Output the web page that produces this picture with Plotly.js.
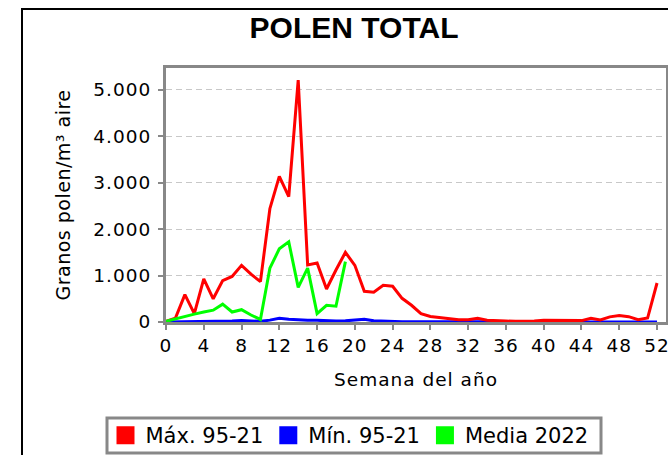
<!DOCTYPE html>
<html>
<head>
<meta charset="utf-8">
<script src="https://cdn.plot.ly/plotly-3.0.1.min.js"></script>
<style>
html,body{margin:0;padding:0;background:#fff;overflow:hidden;}
#chart{width:668px;height:455px;position:relative;}
#frame{position:absolute;left:21px;top:8px;width:720px;height:520px;border:2px solid #000;pointer-events:none;}
#chart .xtick text, #chart .ytick text, #chart .g-xtitle text {letter-spacing:1px;}
#chart .g-ytitle text {letter-spacing:0.5px;}
</style>
</head>
<body>
<div id="chart"></div>
<div id="frame"></div>
<script>
const weeks = Array.from({length: 53}, (_, i) => i);
const maxLabel = "Máx. 95-21";
const minLabel = "Mín. 95-21";
const mediaLabel = "Media 2022";
const maxValues = [15, 85, 590, 180, 930, 500, 890, 980, 1220, 1030, 870, 2440, 3135, 2700, 5210, 1230, 1270, 710, 1120, 1500, 1220, 660, 640, 790, 770, 510, 360, 180, 120, 100, 85, 50, 50, 80, 36, 22, 22, 14, 14, 20, 35, 30, 35, 30, 30, 80, 45, 110, 140, 115, 50, 85, 840];
const minValues = [0, 2, 3, 3, 4, 5, 8, 20, 30, 30, 15, 40, 80, 60, 45, 40, 35, 25, 20, 25, 35, 60, 25, 15, 10, 8, 6, 5, 4, 3, 3, 2, 2, 2, 2, 2, 2, 2, 2, 2, 2, 2, 2, 2, 2, 2, 2, 2, 2, 2, 2, 2, 2];
const mediaWeeks = weeks.slice(0, 20);
const mediaValues = [15, 70, 120, 170, 215, 255, 385, 215, 265, 150, 55, 1160, 1575, 1725, 745, 1160, 180, 360, 340, 1300];
const yTicks = [0, 1000, 2000, 3000, 4000, 5000];
const xTicks = [0, 4, 8, 12, 16, 20, 24, 28, 32, 36, 40, 44, 48, 52];

const RED = '#ff0000', BLUE = '#0000ff', GREEN = '#00ff00';
const font = 'DejaVu Sans, Verdana, sans-serif';

const W = 668, H = 455, ML = 166, MR = 2, MT = 68, MB = 133;
const PW = W - ML - MR, PH = H - MT - MB;
const px2x = px => (px - ML) / PW;
const py2y = py => (H - MB - py) / PH;

const traces = [
  {x: weeks, y: minValues, mode: 'lines', line: {color: BLUE, width: 3}, showlegend: false, hoverinfo: 'skip'},
  {x: weeks, y: maxValues, mode: 'lines', line: {color: RED, width: 3}, showlegend: false, hoverinfo: 'skip'},
  {x: mediaWeeks, y: mediaValues, mode: 'lines', line: {color: GREEN, width: 3}, showlegend: false, hoverinfo: 'skip'},
  {x: [null], y: [null], mode: 'markers', name: maxLabel, marker: {symbol: 'square', size: 16, color: RED, line: {color: RED, width: 2}}},
  {x: [null], y: [null], mode: 'markers', name: minLabel, marker: {symbol: 'square', size: 16, color: BLUE, line: {color: BLUE, width: 2}}},
  {x: [null], y: [null], mode: 'markers', name: mediaLabel, marker: {symbol: 'square', size: 16, color: GREEN, line: {color: GREEN, width: 2}}}
];

const layout = {
  width: W, height: H,
  margin: {l: ML, r: MR, t: MT, b: MB},
  paper_bgcolor: '#fff', plot_bgcolor: '#fff',
  separators: ',.',
  font: {family: font, size: 18, color: '#000'},
  title: {text: 'POLEN TOTAL', font: {family: 'Liberation Sans, Arial, sans-serif', size: 30, weight: 'bold', color: '#000'},
          xref: 'container', x: 0.53, xanchor: 'center', yref: 'container', y: 1 - 27/455, yanchor: 'middle'},
  xaxis: {
    range: [0, 52.95], tickvals: xTicks, ticktext: xTicks.map(String),
    showgrid: false, zeroline: false,
    showline: true, linecolor: '#888', linewidth: 3, mirror: true,
    ticks: 'outside', ticklen: 5, tickwidth: 2, tickcolor: '#888',
    ticklabeloverflow: 'allow',
    tickfont: {family: font, size: 18.5, color: '#000'},
    title: {text: 'Semana del año', font: {family: font, size: 18.5, color: '#000'}, standoff: 18},
    automargin: false
  },
  yaxis: {
    range: [0, 5470], tickvals: yTicks, tickformat: ',d',
    showgrid: true, gridcolor: '#c8c8c8', gridwidth: 1, griddash: '6px,4px',
    zeroline: false,
    showline: true, linecolor: '#888', linewidth: 3, mirror: true,
    ticks: 'outside', ticklen: 5, tickwidth: 2, tickcolor: '#888',
    ticklabelstandoff: 3,
    tickfont: {family: font, size: 18.5, color: '#000'},
    title: {text: 'Granos polen/m³ aire', font: {family: font, size: 19, color: '#000'}, standoff: 23},
    automargin: false
  },
  shapes: [{
    type: 'rect', xref: 'paper', yref: 'paper', layer: 'above',
    x0: px2x(107), x1: px2x(601), y0: py2y(453), y1: py2y(418),
    line: {color: '#888', width: 3}, fillcolor: 'rgba(0,0,0,0)'
  }],
  showlegend: true,
  legend: {
    orientation: 'h', xref: 'container', yref: 'container',
    x: 105.5/668, xanchor: 'left', y: 1 - 435.5/455, yanchor: 'middle',
    bgcolor: 'rgba(0,0,0,0)', borderwidth: 0,
    font: {family: font, size: 21, color: '#000'},
    itemclick: false, itemdoubleclick: false
  }
};

Plotly.newPlot('chart', traces, layout, {displayModeBar: false, staticPlot: true});
</script>
</body>
</html>
